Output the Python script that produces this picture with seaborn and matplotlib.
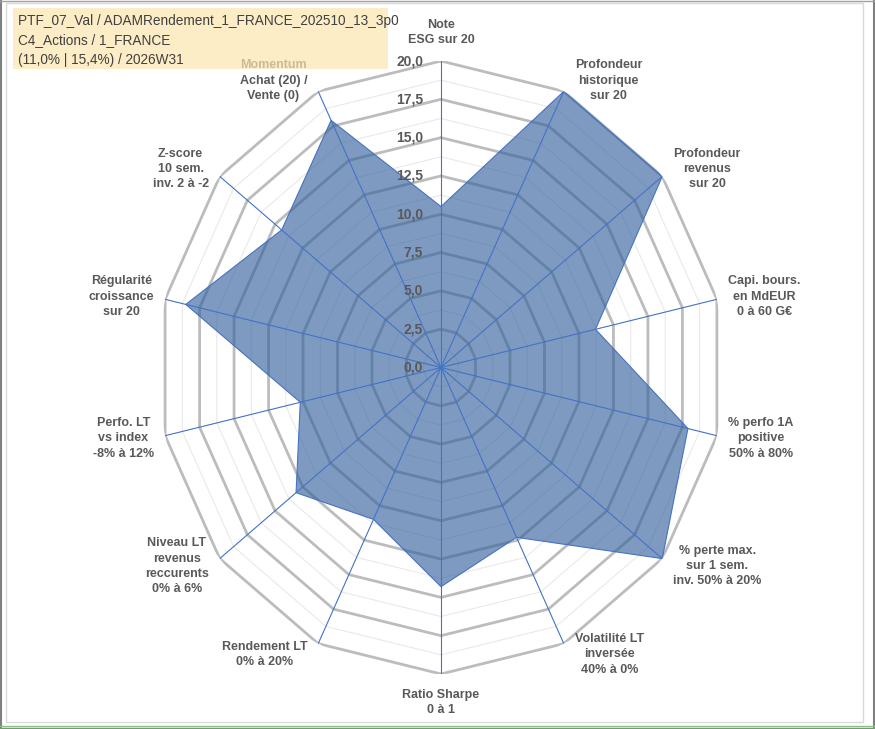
import numpy as np
import seaborn as sns
import matplotlib
matplotlib.use("Agg")
from matplotlib import pyplot as plt
from matplotlib.patches import Rectangle
from matplotlib.lines import Line2D

# data (scores on a 0-20 scale)
categories = [
    "Note\nESG sur 20",
    "Profondeur\nhistorique\nsur 20",
    "Profondeur\nrevenus\nsur 20",
    "Capi. bours.\nen MdEUR\n0 à 60 G€",
    "% perfo 1A\npositive\n50% à 80%",
    "% perte max.\nsur 1 sem.\ninv. 50% à 20%",
    "Volatilité LT\ninversée\n40% à 0%",
    "Ratio Sharpe\n0 à 1",
    "Rendement LT\n0% à 20%",
    "Niveau LT\nrevenus\nreccurents\n0% à 6%",
    "Perfo. LT\nvs index\n-8% à 12%",
    "Régularité\ncroissance\nsur 20",
    "Z-score\n10 sem.\ninv. 2 à -2",
    "Momentum\nAchat (20) /\nVente (0)",
]
scores = [10.5, 20.0, 20.0, 11.2, 17.9, 20.0, 12.3, 14.3, 11.0, 13.1, 10.2, 18.5, 14.4, 17.9]
ticks = [0, 2.5, 5, 7.5, 10, 12.5, 15, 17.5, 20]
minor_ticks = [1.25, 3.75, 6.25, 8.75, 11.25, 13.75, 16.25, 18.75]
title_lines = [
    "PTF_07_Val / ADAMRendement_1_FRANCE_202510_13_3p0",
    "C4_Actions / 1_FRANCE",
    "(11,0% | 15,4%) / 2026W31",
]

sns.set_style("white")
plt.rcParams['font.family'] = ['Liberation Sans', 'DejaVu Sans']

W, H = 875, 729
fig = plt.figure(figsize=(W / 100, H / 100), dpi=100)
fig.patch.set_facecolor("white")

# polar axes stretched a little vertically like the screenshot
ax = fig.add_axes([158 / W, (H - 674) / H, 566 / W, 613 / H], projection="polar")
ax.set_aspect("auto")
ax.set_theta_zero_location("N")
ax.set_theta_direction(-1)
ax.set_ylim(0, 20)
ax.grid(False)
ax.set_xticks([])
ax.set_yticks([])
ax.spines["polar"].set_visible(False)
ax.patch.set_alpha(0)

n = len(categories)
theta = np.arange(n) * 2 * np.pi / n
theta_c = np.append(theta, theta[0])

# polygon grid
for lv in minor_ticks:
    ax.plot(theta_c, [lv] * (n + 1), color="#e9e9e9", lw=0.8, zorder=1)
for lv in ticks[1:]:
    ax.plot(theta_c, [lv] * (n + 1), color="#bcbcbc", lw=2.0, zorder=1)

# series
vals = np.append(scores, scores[0])
ax.fill(theta_c, vals, color="#2f5d9a", alpha=0.62, zorder=2, lw=0)
ax.plot(theta_c, vals, color="#4472c4", lw=0.8, zorder=3)

# spokes
for t in theta:
    ax.plot([t, t], [0, 20], color="#4472c4", lw=0.8, zorder=3)

# radial value labels along the top spoke
for tv in ticks:
    ax.annotate(f"{tv:.1f}".replace(".", ","), xy=(0, tv), xytext=(-18, 0),
                textcoords="offset pixels", ha="right", va="center",
                fontsize=10, fontweight="bold", color="#595959", zorder=5)

# category labels
for t, lab in zip(theta, categories):
    s, c = np.sin(t), np.cos(t)
    if abs(s) < 0.1:
        ha = "center"
        va = "bottom" if c > 0 else "top"
        off = (0, 15 if c > 0 else -15)
    else:
        ha = "left" if s > 0 else "right"
        va = "center"
        off = (11 if s > 0 else -11, 12 * c)
    ax.annotate(lab, xy=(t, 20), xytext=off, textcoords="offset pixels",
                ha=ha, va=va, multialignment="center", fontsize=9,
                fontweight="bold", color="#595959", linespacing=1.35,
                annotation_clip=False, zorder=5)

# title box (semi-transparent, covers the Momentum line)
fig.add_artist(Rectangle((13 / W, 1 - 69 / H), 375 / W, 61 / H,
                         transform=fig.transFigure, facecolor="#fde6b0",
                         edgecolor="none", alpha=0.7, zorder=2))
for i, line in enumerate(title_lines):
    fig.text(18 / W, 1 - (21 + 19.5 * i) / H, line, ha="left", va="center",
             fontsize=9.8, color="#404040", zorder=3)

# chart frame
fig.add_artist(Rectangle((6 / W, 1 - 722 / H), 857 / W, 719 / H,
                         transform=fig.transFigure, fill=False,
                         edgecolor="#d9d9d9", lw=1, zorder=1))
fig.add_artist(Line2D([1 / W, 1 / W], [0, 1], transform=fig.transFigure,
                      color="#808080", lw=1.5))
fig.add_artist(Line2D([874 / W, 874 / W], [0, 1], transform=fig.transFigure,
                      color="#808080", lw=1.5))
fig.add_artist(Line2D([0, 1], [1 - 1 / H, 1 - 1 / H], transform=fig.transFigure,
                      color="#a0a0a0", lw=1))
fig.add_artist(Line2D([0, 1], [1 - 726 / H, 1 - 726 / H], transform=fig.transFigure,
                      color="#8fbc8f", lw=1))
fig.add_artist(Line2D([0, 1], [1 - 728 / H, 1 - 728 / H], transform=fig.transFigure,
                      color="#6e9e6e", lw=1))

fig.savefig("out.png", dpi=100)
